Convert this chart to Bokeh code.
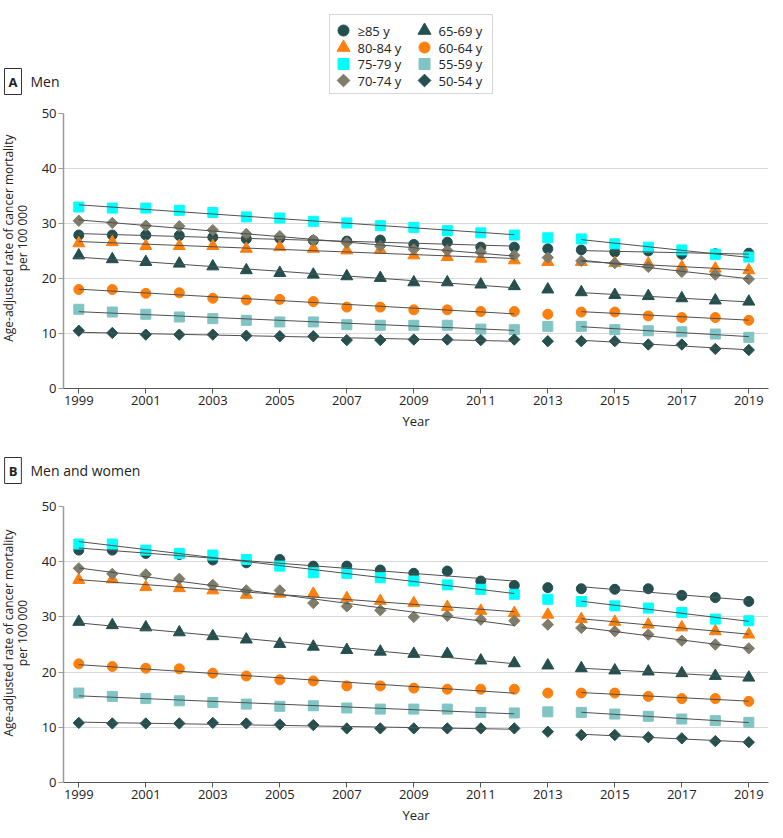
import numpy as np
from bokeh.plotting import figure
from bokeh.models import Label, FixedTicker, Range1d, BoxAnnotation
from bokeh.layouts import column, row
from bokeh.embed import file_html
from bokeh.resources import INLINE

years = list(range(1999, 2020))
x_ticks = list(range(1999, 2020, 2))
y_ticks = [0, 10, 20, 30, 40, 50]
age_groups = ["≥85 y", "80-84 y", "75-79 y", "70-74 y", "65-69 y", "60-64 y", "55-59 y", "50-54 y"]
y_label_lines = ["Age-adjusted rate of cancer mortality", "per 100 000"]

# Panel A: Men
men_85 = [27.9, 27.9, 27.9, 27.8, 27.5, 27.2, 27.3, 26.9, 26.8, 27.0, 26.2, 26.6, 25.7, 25.7, 25.4, 25.2, 24.8, 25.0, 24.4, 24.5, 24.6]
men_80 = [26.4, 26.6, 25.9, 25.9, 25.9, 25.4, 25.7, 25.4, 25.1, 25.2, 24.2, 23.9, 23.6, 23.3, 23.0, 23.0, 22.8, 22.7, 22.1, 21.8, 21.5]
men_75 = [33.0, 32.8, 32.8, 32.4, 32.0, 31.2, 31.0, 30.4, 30.1, 29.6, 29.3, 28.7, 28.3, 27.9, 27.4, 27.2, 26.3, 25.7, 25.2, 24.4, 23.9]
men_70 = [30.5, 30.1, 29.6, 29.5, 28.8, 28.1, 27.7, 27.0, 26.5, 25.9, 25.3, 25.1, 24.8, 24.2, 23.8, 23.2, 22.8, 22.1, 21.2, 20.7, 19.9]
men_65 = [24.2, 23.5, 23.0, 22.7, 22.2, 21.5, 21.0, 20.7, 20.4, 20.1, 19.3, 19.3, 18.9, 18.6, 18.0, 17.5, 17.0, 16.8, 16.4, 16.0, 15.8]
men_60 = [18.0, 18.0, 17.3, 17.4, 16.4, 16.1, 16.2, 15.8, 14.8, 14.8, 14.3, 14.3, 14.0, 14.0, 13.5, 13.9, 13.9, 13.2, 12.9, 12.9, 12.4]
men_55 = [14.4, 13.9, 13.5, 13.0, 12.7, 12.4, 12.1, 12.1, 11.6, 11.5, 11.5, 11.5, 10.8, 10.7, 11.3, 11.3, 10.7, 10.5, 10.3, 9.9, 9.3]
men_50 = [10.5, 10.1, 9.8, 9.8, 9.8, 9.6, 9.5, 9.5, 8.8, 8.8, 8.9, 8.9, 8.8, 8.9, 8.6, 8.6, 8.6, 8.0, 8.0, 7.2, 7.0]

# Panel B: Men and women
both_85 = [42.1, 42.1, 41.5, 41.3, 40.3, 39.8, 40.4, 39.2, 39.2, 38.5, 37.9, 38.3, 36.5, 35.7, 35.3, 35.1, 35.0, 35.1, 33.9, 33.5, 32.8]
both_80 = [36.7, 36.8, 35.4, 35.2, 34.8, 34.0, 34.2, 34.2, 33.4, 32.9, 32.5, 31.8, 31.1, 30.7, 30.4, 29.6, 29.1, 28.6, 28.1, 27.4, 26.8]
both_75 = [43.2, 43.2, 42.1, 41.5, 41.2, 40.4, 39.2, 38.0, 37.9, 37.1, 36.5, 35.8, 35.0, 34.1, 33.2, 32.8, 32.0, 31.6, 30.8, 29.6, 29.3]
both_70 = [38.8, 37.8, 37.7, 36.9, 35.8, 34.8, 34.8, 32.5, 31.9, 31.2, 30.0, 30.2, 29.5, 29.3, 28.6, 28.0, 27.4, 26.8, 25.7, 25.0, 24.3]
both_65 = [29.1, 28.5, 28.1, 27.2, 26.5, 25.9, 25.1, 24.6, 24.0, 23.7, 23.3, 23.3, 22.1, 21.6, 21.2, 20.7, 20.3, 20.1, 19.8, 19.3, 19.0]
both_60 = [21.5, 21.0, 20.7, 20.6, 19.8, 19.3, 18.6, 18.4, 17.5, 17.5, 17.1, 16.9, 16.9, 16.9, 16.2, 16.2, 16.2, 15.6, 15.2, 15.2, 14.7]
both_55 = [16.2, 15.6, 15.2, 14.8, 14.5, 14.2, 13.8, 13.9, 13.5, 13.3, 13.3, 13.3, 12.7, 12.6, 12.8, 12.7, 12.4, 12.0, 11.5, 11.2, 10.9]
both_50 = [10.8, 10.7, 10.7, 10.7, 10.8, 10.7, 10.5, 10.4, 9.8, 9.8, 9.8, 9.8, 9.8, 9.8, 9.2, 8.6, 8.6, 8.2, 8.0, 7.5, 7.3]

# trend segments (2013 excluded)
segments = [(1999, 2012), (2014, 2019)]

DARK = "#23504f"
ORANGE = "#fd7f0e"
CYAN = "#00ffff"
KHAKI = "#7f7c69"
LTEAL = "#80c4c3"
# marker, colour, size, angle (deg)
styles = [
    ("circle", DARK, 10, 0),
    ("triangle", ORANGE, 12, 0),
    ("square", CYAN, 10, 0),
    ("square", KHAKI, 8, 45),
    ("triangle", DARK, 12, 0),
    ("circle", ORANGE, 10, 0),
    ("square", LTEAL, 10, 0),
    ("square", DARK, 8, 45),
]

FONT = "Open Sans"
TXT = "#222222"
X0, X1 = 1998.543, 2019.588
FULL_W = 780


def blank(width, height):
    """A figure whose frame is its whole canvas, in pixel units (y up)."""
    f = figure(width=width, height=height, x_range=Range1d(0, width), y_range=Range1d(0, height),
               x_axis_type=None, y_axis_type=None, output_backend="svg", toolbar_location=None,
               min_border_left=0, min_border_right=0, min_border_top=0, min_border_bottom=0)
    f.outline_line_color = None
    f.grid.visible = False
    f.background_fill_color = "white"
    f.border_fill_color = "white"
    return f


def make_header(height, letter, title, title_y):
    h = blank(FULL_W, height)
    h.add_layout(Label(x=12.5, y=title_y, text=letter, text_font=FONT, text_font_size="13px",
                       text_font_style="bold", text_color=TXT,
                       text_align="center", text_baseline="middle",
                       border_line_color="#333333", border_line_width=1,
                       background_fill_color="white", padding=4))
    h.add_layout(Label(x=30, y=title_y, text=title, text_font=FONT, text_font_size="14px",
                       text_color=TXT, text_align="left", text_baseline="middle"))
    return h


def make_panel(series, top_border, frame_h):
    p = figure(frame_width=705, frame_height=frame_h,
               x_range=Range1d(X0, X1), y_range=Range1d(0, 50),
               output_backend="svg", toolbar_location=None,
               min_border_left=33, min_border_right=12,
               min_border_top=top_border, min_border_bottom=44)
    p.outline_line_color = None
    p.background_fill_color = "white"
    p.border_fill_color = "white"
    p.xgrid.visible = False
    p.ygrid.ticker = FixedTicker(ticks=y_ticks)
    p.ygrid.grid_line_color = "#d9d9d9"
    p.ygrid.grid_line_width = 1

    p.xaxis.ticker = FixedTicker(ticks=x_ticks)
    p.yaxis.ticker = FixedTicker(ticks=y_ticks)
    p.xaxis.axis_label = "Year"
    for ax in (p.xaxis[0], p.yaxis[0]):
        ax.major_label_text_font = FONT
        ax.major_label_text_font_size = "13px"
        ax.major_label_text_color = TXT
        ax.axis_label_text_font = FONT
        ax.axis_label_text_font_size = "13px"
        ax.axis_label_text_font_style = "normal"
        ax.axis_label_text_color = TXT
        ax.major_tick_in = 0
        ax.major_tick_out = 5
        ax.minor_tick_in = 0
        ax.minor_tick_out = 0
        ax.major_label_standoff = 2
        ax.axis_label_standoff = 4
    p.xaxis.axis_line_color = "#555555"
    p.xaxis.major_tick_line_color = "#555555"
    p.yaxis.axis_line_color = "#9a9a9a"
    p.yaxis.axis_line_width = 1.5
    p.yaxis.major_tick_line_color = "#9a9a9a"

    yrs = np.array(years, dtype=float)
    for (marker, color, size, ang), vals in zip(styles, series):
        p.scatter(years, vals, marker=marker, size=size, angle=ang, angle_units="deg",
                  fill_color=color, line_color=color)
    for vals in series:
        v = np.array(vals, dtype=float)
        for a, b in segments:
            m = (yrs >= a) & (yrs <= b)
            k, c = np.polyfit(yrs[m], v[m], 1)
            p.line([a, b], [k * a + c, k * b + c], line_color="#505050", line_width=1)
    return p


def make_ylabel(height, center_y):
    f = blank(30, height)
    for i, txt in enumerate(y_label_lines):
        f.add_layout(Label(x=8 + 14 * i, y=center_y, text=txt, angle=90, angle_units="deg",
                           text_font=FONT, text_font_size="12px", text_color=TXT,
                           text_align="center", text_baseline="middle"))
    return f


# ---- panel A ----
HEAD_A = 100
TOP_A, FRAME_A, BOT = 13, 275, 44
head_a = make_header(HEAD_A, "A", "Men", 19)

# legend (2 columns x 4 rows), drawn in the header's pixel space
LEG_L, LEG_R, LEG_T, LEG_B = 329, 492, 14, 93
leg_rows = [30, 47, 63.5, 80]
leg_cols = [343, 424]
head_a.add_layout(BoxAnnotation(left=LEG_L, right=LEG_R, bottom=HEAD_A - LEG_B, top=HEAD_A - LEG_T,
                                fill_color="white", fill_alpha=1,
                                line_color="#7a7a7a", line_width=1, level="underlay"))
for i, (g, (marker, color, size, ang)) in enumerate(zip(age_groups, styles)):
    c, r = divmod(i, 4)
    mx, my = leg_cols[c], HEAD_A - leg_rows[r]
    head_a.scatter([mx], [my], marker=marker, size=size + 1, angle=ang, angle_units="deg",
                   fill_color=color, line_color=color)
    head_a.add_layout(Label(x=mx + 14, y=my, text=g, text_font=FONT, text_font_size="13px",
                            text_color=TXT, text_align="left", text_baseline="middle"))

pa = make_panel([men_85, men_80, men_75, men_70, men_65, men_60, men_55, men_50], TOP_A, FRAME_A)
ha = TOP_A + FRAME_A + BOT
ylab_a = make_ylabel(ha, ha - TOP_A - FRAME_A / 2)

# ---- panel B ----
HEAD_B = 58
TOP_B, FRAME_B = 16, 276
head_b = make_header(HEAD_B, "B", "Men and women", 20)
pb = make_panel([both_85, both_80, both_75, both_70, both_65, both_60, both_55, both_50], TOP_B, FRAME_B)
hb = TOP_B + FRAME_B + BOT
ylab_b = make_ylabel(hb, hb - TOP_B - FRAME_B / 2)

layout = column(head_a, row(ylab_a, pa, spacing=0), head_b, row(ylab_b, pb, spacing=0), spacing=0)
open("out.html", "w").write(file_html(layout, INLINE))
